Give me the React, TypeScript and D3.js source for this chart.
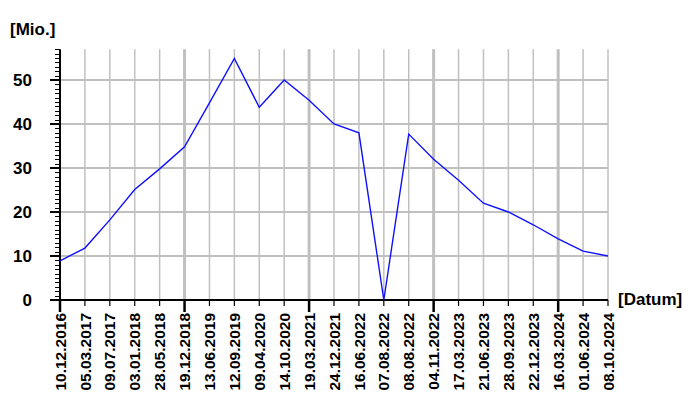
import React, { useEffect, useRef } from 'react';
import * as d3 from 'd3';

// Dates on the x axis (evenly spaced categories)
const dates = [
	'10.12.2016', '05.03.2017', '09.07.2017', '03.01.2018', '28.05.2018', '19.12.2018',
	'13.06.2019', '12.09.2019', '09.04.2020', '14.10.2020', '19.03.2021', '24.12.2021',
	'16.06.2022', '07.08.2022', '08.08.2022', '04.11.2022', '17.03.2023', '21.06.2023',
	'28.09.2023', '22.12.2023', '16.03.2024', '01.06.2024', '08.10.2024',
];
// Values in millions
const values = [
	8.9, 11.8, 18.2, 25.1, 29.8, 34.8, 44.8, 54.9, 43.8, 50, 45.4, 40, 38,
	0, 37.7, 32, 27.2, 22, 20, 17.1, 13.9, 11.1, 10,
];
const yTicks = [0, 10, 20, 30, 40, 50];
const majorEvery = 5;

const W = 700;
const H = 400;

const App: React.FC = () => {
	const svgRef = useRef<SVGSVGElement>(null);

	useEffect(() => {
		document.body.style.margin = '0';
		const svg = d3.select(svgRef.current);
		svg.selectAll('*').remove();

		const x = d3.scalePoint<string>().domain(dates).range([60, 608]);
		const y = d3.scaleLinear().domain([0, 57]).range([300, 300 - 57 * 4.4]);
		const font = '"Liberation Sans", Arial, sans-serif';
		const grid = '#c0c0c0';

		// horizontal grid
		svg.append('g')
			.selectAll('line')
			.data(yTicks.filter((t) => t > 0))
			.enter()
			.append('line')
			.attr('x1', x(dates[0])!)
			.attr('x2', x(dates[dates.length - 1])!)
			.attr('y1', (d) => y(d))
			.attr('y2', (d) => y(d))
			.attr('stroke', grid)
			.attr('stroke-width', 2);

		// vertical grid
		svg.append('g')
			.selectAll('line')
			.data(dates.slice(1))
			.enter()
			.append('line')
			.attr('x1', (d) => x(d)!)
			.attr('x2', (d) => x(d)!)
			.attr('y1', y(57))
			.attr('y2', y(0))
			.attr('stroke', grid)
			.attr('stroke-width', (d) => (dates.indexOf(d) % majorEvery === 0 ? 3 : 1.5));

		// y axis minor ticks (every unit, pointing outward)
		const minor = d3.range(0, 58);
		svg.append('g')
			.selectAll('line')
			.data(minor)
			.enter()
			.append('line')
			.attr('x1', 55)
			.attr('x2', 60)
			.attr('y1', (d) => Math.round(y(d)) + 0.5)
			.attr('y2', (d) => Math.round(y(d)) + 0.5)
			.attr('stroke', '#000')
			.attr('stroke-width', 1);

		// y major ticks
		svg.append('g')
			.selectAll('line')
			.data(yTicks)
			.enter()
			.append('line')
			.attr('x1', 50)
			.attr('x2', 60)
			.attr('y1', (d) => y(d))
			.attr('y2', (d) => y(d))
			.attr('stroke', '#000')
			.attr('stroke-width', 2);

		// y labels
		svg.append('g')
			.selectAll('text')
			.data(yTicks)
			.enter()
			.append('text')
			.attr('x', 32)
			.attr('y', (d) => y(d))
			.attr('dy', '0.36em')
			.attr('text-anchor', 'end')
			.style('font-family', font)
			.style('font-weight', 'bold')
			.style('font-size', '17px')
			.text((d) => String(d));

		// x ticks
		svg.append('g')
			.selectAll('line')
			.data(dates)
			.enter()
			.append('line')
			.attr('x1', (d) => x(d)!)
			.attr('x2', (d) => x(d)!)
			.attr('y1', y(0))
			.attr('y2', (d) => (dates.indexOf(d) % majorEvery === 0 ? 312 : 306))
			.attr('stroke', '#000')
			.attr('stroke-width', (d) => (dates.indexOf(d) % majorEvery === 0 ? 2.5 : 1.2));

		// x labels
		svg.append('g')
			.selectAll('text')
			.data(dates)
			.enter()
			.append('text')
			.attr('transform', (d) => `translate(${x(d)}, 313) rotate(-90)`)
			.attr('dy', '0.36em')
			.attr('text-anchor', 'end')
			.style('font-family', font)
			.style('font-weight', 'bold')
			.style('font-size', '15.5px')
			.text((d) => d);

		// axis lines
		svg.append('line')
			.attr('x1', 60).attr('x2', 60)
			.attr('y1', y(57)).attr('y2', y(0))
			.attr('stroke', '#000').attr('stroke-width', 2);
		svg.append('line')
			.attr('x1', 50).attr('x2', x(dates[dates.length - 1])!)
			.attr('y1', y(0)).attr('y2', y(0))
			.attr('stroke', '#000').attr('stroke-width', 2);

		// data line
		const line = d3
			.line<number>()
			.x((_, i) => x(dates[i])!)
			.y((d) => y(d));
		svg.append('path')
			.datum(values)
			.attr('d', line)
			.attr('fill', 'none')
			.attr('stroke', '#1010ff')
			.attr('stroke-width', 1.4)
			.attr('stroke-linejoin', 'miter');

		// axis titles
		svg.append('text')
			.attr('x', 10)
			.attr('y', 35)
			.style('font-family', font)
			.style('font-weight', 'bold')
			.style('font-size', '17px')
			.text('[Mio.]');
		svg.append('text')
			.attr('x', 618)
			.attr('y', 305)
			.style('font-family', font)
			.style('font-weight', 'bold')
			.style('font-size', '17px')
			.text('[Datum]');
	}, []);

	return (
		<svg
			ref={svgRef}
			width={W}
			height={H}
			style={{ position: 'absolute', left: 0, top: 0, background: '#fff' }}
		/>
	);
};

export default App;
